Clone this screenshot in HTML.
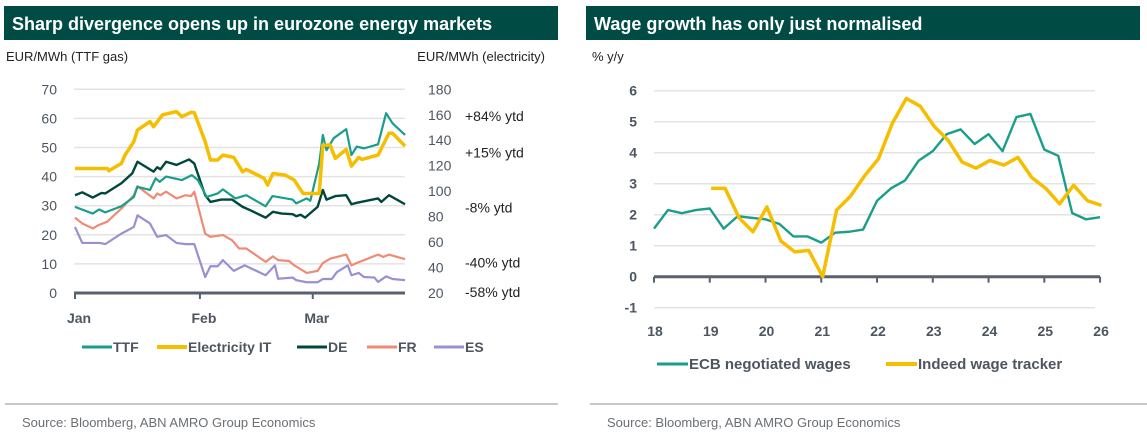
<!DOCTYPE html>
<html><head><meta charset="utf-8">
<style>
body{margin:0;background:#fff;width:1147px;height:437px;overflow:hidden;font-family:"Liberation Sans",sans-serif;}
svg{position:absolute;left:0;top:0}
</style></head>
<body>
<svg id="c" width="1147" height="437" xmlns="http://www.w3.org/2000/svg">
<rect x="4" y="6" width="554" height="34" fill="#004c45"/>
<text x="12" y="30" fill="#fff" font-size="18" font-weight="bold">Sharp divergence opens up in eurozone energy markets</text>
<rect x="586" y="6" width="554" height="34" fill="#004c45"/>
<text x="594" y="30" fill="#fff" font-size="18" font-weight="bold">Wage growth has only just normalised</text>
<text x="6" y="61" fill="#222" font-size="13">EUR/MWh (TTF gas)</text>
<text x="545" y="61" fill="#222" font-size="13" text-anchor="end">EUR/MWh (electricity)</text>
<text x="592" y="61" fill="#222" font-size="13">% y/y</text>
<line x1="5" y1="404" x2="558" y2="404" stroke="#c8c8c8" stroke-width="2"/>
<line x1="590" y1="404" x2="1147" y2="404" stroke="#c8c8c8" stroke-width="2"/>
<text x="22" y="427" fill="#6a6f74" font-size="13">Source: Bloomberg, ABN AMRO Group Economics</text>
<text x="607" y="427" fill="#6a6f74" font-size="13">Source: Bloomberg, ABN AMRO Group Economics</text>
</svg>
<script>
// ===== Left chart data (x in days since Jan 1) =====
const gasTicks=[0,10,20,30,40,50,60,70];
const elecTicks=[20,40,60,80,100,120,140,160,180];
const monthLabels=["Jan","Feb","Mar"];
const monthDays=[0,31,59];
const ttfDays=[0,4.4,6,7.5,11.5,14.6,15.5,18.6,20,21,22.6,26.5,29,30.5,32.7,35.4,36.7,39.8,42.5,47.3,49,54,54.9,57.5,58.4,60.6,61.5,62.4,64.2,67.3,68.6,69.9,71.7,75.2,77.2,78.8,81.9];
const ttfVals=[29.6,27.3,28.7,27.7,29.8,33,36.5,35.4,39.4,38.2,40,38.8,40.5,38.8,33,34.2,35.6,32.5,33.6,29.8,33.3,32.1,30.8,32.5,31.7,44.5,54.3,49.1,53.2,56.3,47.4,50.3,49.7,51.1,61.8,58.3,54.3];
const itDays=[0,8,8.4,11.5,12.4,14.6,15.5,18.6,19.5,21.7,25.2,26.5,28.8,29.6,32.3,33.6,35.4,36.7,39.4,41.6,42.5,46.9,47.8,49.1,52.2,54.4,56.6,60.6,61.5,63.3,64.6,67.3,68.6,70.4,71.2,75.2,77.9,78.8,81.9];
const itVals=[117.8,117.8,116,121.7,128.3,138.9,148,154.6,150.6,159.9,162.5,158.5,161.9,161.7,138.9,124.5,124.5,128.3,126.5,115.2,117.1,110.1,104.8,113.9,112.6,108.7,98.2,98.2,136.2,136.2,125.7,132.8,119.7,126.5,124.9,128.3,145.5,145.5,135.4];
const deDays=[0,1.8,4.4,6.6,7.5,11.5,14.2,15.5,19.5,20.4,21.2,22.6,25.2,28.3,29.6,32.3,33.6,36.3,39,41.6,43.4,47.3,49.1,51.3,54,54.9,56,57.1,60.2,61.5,62.4,64.6,67.3,68.6,69.9,75.2,76,77.9,81.9];
const deVals=[33.6,34.6,32.8,34.4,34.2,37.7,41.1,45.1,41.7,43.2,42.5,45.1,44,45.9,44.5,33.6,31.3,32.1,32.1,29.6,28.5,25.9,27.9,27.3,27.1,26.4,26.9,25.9,29.6,35.4,32.1,33.3,33.6,30.5,31,32.5,31.3,33.6,30.5];
const frDays=[0,1.8,4.4,5.8,8,11.5,14.6,15.5,19.5,20.4,21.2,22.6,25.2,27.4,28.8,29.6,32.3,33.6,36.7,39,40.7,42.5,47.3,49.1,50.4,53.1,54.4,57.5,60.2,61.5,63.3,67.3,68.6,69.9,75.2,76.5,77.9,81.9];
const frVals=[25.9,23.9,22.2,23.3,24.5,29,33.6,36.7,32.5,34.2,33.6,34.8,32.5,33.6,33.3,34.8,20.4,19.3,19.9,18.1,15.3,15.3,10.7,12.6,11.3,11,9.5,6.9,7.6,10.3,11.8,13.2,9.5,10.3,13.2,12.4,13.2,11.6];
const esDays=[0,1.8,6.2,7.5,11.5,14.6,15.5,18.6,20.4,22.6,25.2,27.4,29.6,32.3,33.6,35.4,36.7,39.4,42.1,47.3,49.6,50.4,54,54.9,57.5,60.2,61.5,63.7,65,67.7,68.6,70.4,71.7,74.3,75.2,77.2,78.8,81.9];
const esVals=[22.7,17.2,17.2,16.8,20.4,22.7,26.7,23.9,19.3,19.9,17.2,16.8,16.8,5.5,9.2,9.2,11.3,7.6,9.5,6.1,9.5,4.9,5.3,4.4,3.7,3.7,4.8,4.8,7.2,9.5,6.1,6.9,5.5,5.3,3.8,5.7,4.8,4.4];
const ytdLabels=["+84% ytd","+15% ytd","-8% ytd","-40% ytd","-58% ytd"];
const ytdAt=[60.8,48.2,29.3,10.4,0.4];
// ===== Right chart data (quarters since 2018Q1) =====
const yearLabels=["18","19","20","21","22","23","24","25","26"];
const wageTicks=[-1,0,1,2,3,4,5,6];
const ecbVals=[1.55,2.15,2.05,2.15,2.2,1.55,1.95,1.9,1.85,1.7,1.3,1.3,1.1,1.42,1.45,1.52,2.45,2.85,3.1,3.75,4.05,4.6,4.75,4.28,4.6,4.05,5.15,5.25,4.1,3.9,2.05,1.85,1.92];
const indeedStart=4.1;
const indeedVals=[2.85,2.85,1.9,1.45,2.25,1.15,0.8,0.85,0.0,2.15,2.6,3.25,3.8,4.95,5.75,5.5,4.85,4.4,3.7,3.5,3.75,3.6,3.85,3.2,2.85,2.35,2.95,2.45,2.3];

const svg=document.getElementById('c');
const NS="http://www.w3.org/2000/svg";
function mk(tag,attrs,parent){const e=document.createElementNS(NS,tag);for(const k in attrs)e.setAttribute(k,attrs[k]);(parent||svg).appendChild(e);return e;}
const TXT="#4d5660";
// left axes
const Lx=d=>75+d*4.03;
const Ly=g=>293-g*29.1/10;
const Ey=e=>Ly((e-20)*70/160);
gasTicks.forEach(t=>{
  if(t>0){const g=mk('line',{x1:74,x2:405,y1:Ly(t),y2:Ly(t),stroke:'#e3e3e3','stroke-width':1.5});
  
  }
  const tx=mk('text',{x:57,y:Ly(t)+5,'text-anchor':'end','font-size':14,fill:TXT});tx.textContent=t;
  
  
});
elecTicks.forEach(t=>{
  const tx=mk('text',{x:428,y:Ey(t)+5,'font-size':14,fill:TXT});tx.textContent=t;
  
  
});
const lax=mk('line',{x1:74,x2:405,y1:Ly(0),y2:Ly(0),stroke:'#58626c','stroke-width':3});


monthDays.forEach((d,i)=>{
  const tk=mk('line',{x1:Lx(d),x2:Lx(d),y1:Ly(0),y2:Ly(0)+6,stroke:'#58626c','stroke-width':2});
  
  
  const tx=mk('text',{x:Lx(d)+4,y:323,'text-anchor':'middle','font-size':14,'font-weight':'bold',fill:TXT});tx.textContent=monthLabels[i];
  
  
});
function line(xs,ys,fx,fy,col,w,name){
  const p=mk('polyline',{points:xs.map((x,i)=>fx(x)+','+fy(ys[i])).join(' '),fill:'none',stroke:col,'stroke-width':w,'stroke-linejoin':'round'});
  
  
}
line(esDays,esVals,Lx,Ly,'#9b8fd2',2.2,'es-line');
line(frDays,frVals,Lx,Ly,'#f08a76',2.2,'fr-line');
line(deDays,deVals,Lx,Ly,'#00473d',2.4,'de-line');
line(ttfDays,ttfVals,Lx,Ly,'#1a9e8a',2.2,'ttf-line');
line(itDays,itVals,Lx,Ey,'#f5be00',3.5,'electricity-it-line');
ytdLabels.forEach((l,i)=>{
  const tx=mk('text',{x:465,y:Ly(ytdAt[i])+5,'font-size':14,fill:'#222'});tx.textContent=l;
  
  
});
// left legend
const lg=[["TTF","#1a9e8a",82],["Electricity IT","#f5be00",157],["DE","#00473d",297],["FR","#f08a76",367],["ES","#9b8fd2",434]];
lg.forEach(([n,c,x])=>{
  const s=mk('line',{x1:x,x2:x+30,y1:347,y2:347,stroke:c,'stroke-width':n=="Electricity IT"?4:3});
  
  
  const t=mk('text',{x:x+31,y:352,'font-size':14,'font-weight':'bold',fill:TXT});t.textContent=n;
  
  
});
// right chart
const Rx=q=>654+q*13.94;
const Ry=v=>276.7-v*31;
wageTicks.forEach(t=>{
  if(t!==0){const g=mk('line',{x1:654,x2:1095,y1:Ry(t),y2:Ry(t),stroke:'#e3e3e3','stroke-width':1.5});
  
  }
  const tx=mk('text',{x:637,y:Ry(t)+5,'text-anchor':'end','font-size':14,'font-weight':'bold',fill:TXT});tx.textContent=t;
  
  
});
const rax=mk('line',{x1:654,x2:1100,y1:Ry(0),y2:Ry(0),stroke:'#58626c','stroke-width':3});


yearLabels.forEach((l,i)=>{
  const tk=mk('line',{x1:Rx(i*4),x2:Rx(i*4),y1:Ry(0),y2:Ry(0)+6,stroke:'#58626c','stroke-width':2});
  
  
  const tx=mk('text',{x:Rx(i*4)+1,y:336,'text-anchor':'middle','font-size':14,'font-weight':'bold',fill:TXT});tx.textContent=l;
  
  
});
line(ecbVals.map((v,i)=>i),ecbVals,Rx,Ry,'#1a9e8a',2.4,'ecb-wages-line');
line(indeedVals.map((v,i)=>indeedStart+i),indeedVals,Rx,Ry,'#f5be00',3.5,'indeed-wages-line');
[["ECB negotiated wages","#1a9e8a",657],["Indeed wage tracker","#f5be00",886]].forEach(([n,c,x])=>{
  const s=mk('line',{x1:x,x2:x+31,y1:364,y2:364,stroke:c,'stroke-width':n[0]=="I"?4:3});
  
  
  const t=mk('text',{x:x+32,y:369,'font-size':15,'font-weight':'bold',fill:TXT});t.textContent=n;
  
  
});
</script>
</body></html>
